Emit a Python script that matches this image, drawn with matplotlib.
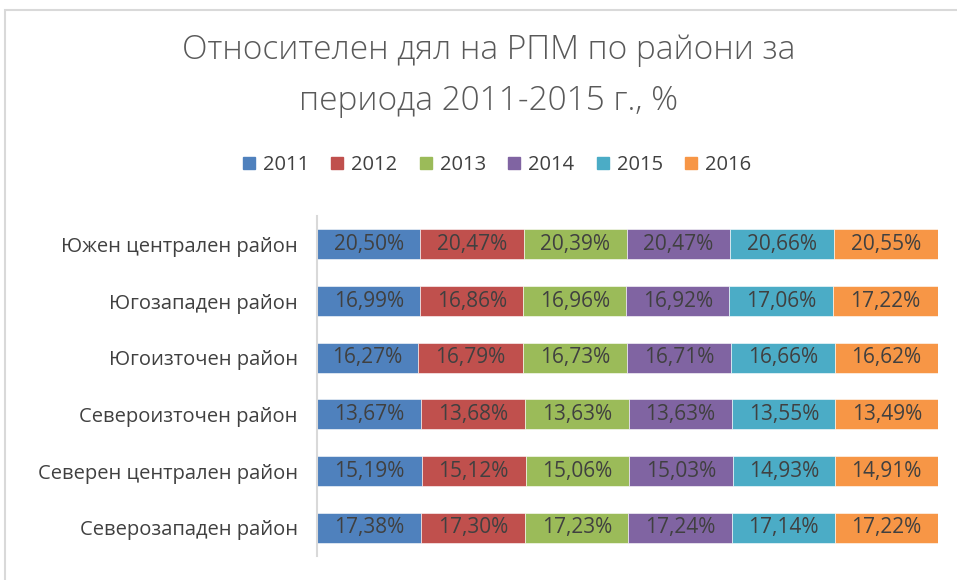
import numpy as np
import matplotlib.pyplot as plt
from matplotlib.patches import Rectangle

regions = ['Южен централен район', 'Югозападен район', 'Югоизточен район',
           'Североизточен район', 'Северен централен район', 'Северозападен район']
years = ['2011', '2012', '2013', '2014', '2015', '2016']
colors = ['#4f81bd', '#c0504d', '#9bbb59', '#8064a2', '#4bacc6', '#f79646']

# rows: regions, columns: years
shares = np.array([
    [20.50, 20.47, 20.39, 20.47, 20.66, 20.55],
    [16.99, 16.86, 16.96, 16.92, 17.06, 17.22],
    [16.27, 16.79, 16.73, 16.71, 16.66, 16.62],
    [13.67, 13.68, 13.63, 13.63, 13.55, 13.49],
    [15.19, 15.12, 15.06, 15.03, 14.93, 14.91],
    [17.38, 17.30, 17.23, 17.24, 17.14, 17.22],
])

plt.rcParams['font.family'] = ['Open Sans', 'DejaVu Sans']
txt = '#404040'

fig = plt.figure(figsize=(9.57, 5.8), dpi=100)
fig.patches.append(Rectangle((5 / 957, -0.1), 1.1, 1 - 10 / 580 + 0.1,
                             transform=fig.transFigure, fill=False,
                             edgecolor='#d9d9d9', linewidth=1.5))

ax = fig.add_axes([317 / 957, 24 / 580, 621 / 957, 340 / 580])

# 100% stacked bars
norm = shares / shares.sum(axis=1, keepdims=True)
y = np.arange(len(regions))
left = np.zeros(len(regions))
for j, yr in enumerate(years):
    bars = ax.barh(y, norm[:, j], left=left, height=0.53, color=colors[j],
                   edgecolor='white', linewidth=0.4, label=yr)
    for i, b in enumerate(bars):
        ax.text(left[i] + norm[i, j] / 2, y[i], f'{shares[i, j]:.2f}%'.replace('.', ','),
                ha='center', va='center', fontsize=15, color=txt)
    left += norm[:, j]

ax.set_xlim(0, 1)
ax.set_ylim(len(regions) - 0.5, -0.5)
ax.set_yticks(y)
ax.set_yticklabels(regions, fontsize=14.5, color=txt)
ax.tick_params(axis='y', length=0, pad=14)
ax.set_xticks([])
for s in ['top', 'right', 'bottom']:
    ax.spines[s].set_visible(False)
ax.spines['left'].set_color('#d9d9d9')
ax.spines['left'].set_linewidth(1.5)

fig.text(489 / 957, 1 - 76 / 580, 'Относителен дял на РПМ по райони за\nпериода 2011-2015 г., %',
         ha='center', va='center', fontsize=24, color='#595959', linespacing=1.7,
         fontweight='light')

handles = [Rectangle((0, 0), 1, 1, color=c) for c in colors]
fig.legend(handles, years, loc='center', bbox_to_anchor=(497 / 957, 1 - 165 / 580),
           ncol=6, frameon=False, fontsize=14.5, labelcolor=txt,
           handlelength=0.6, handleheight=0.6, handletextpad=0.4, columnspacing=1.1)

fig.savefig('out.png', dpi=100)
